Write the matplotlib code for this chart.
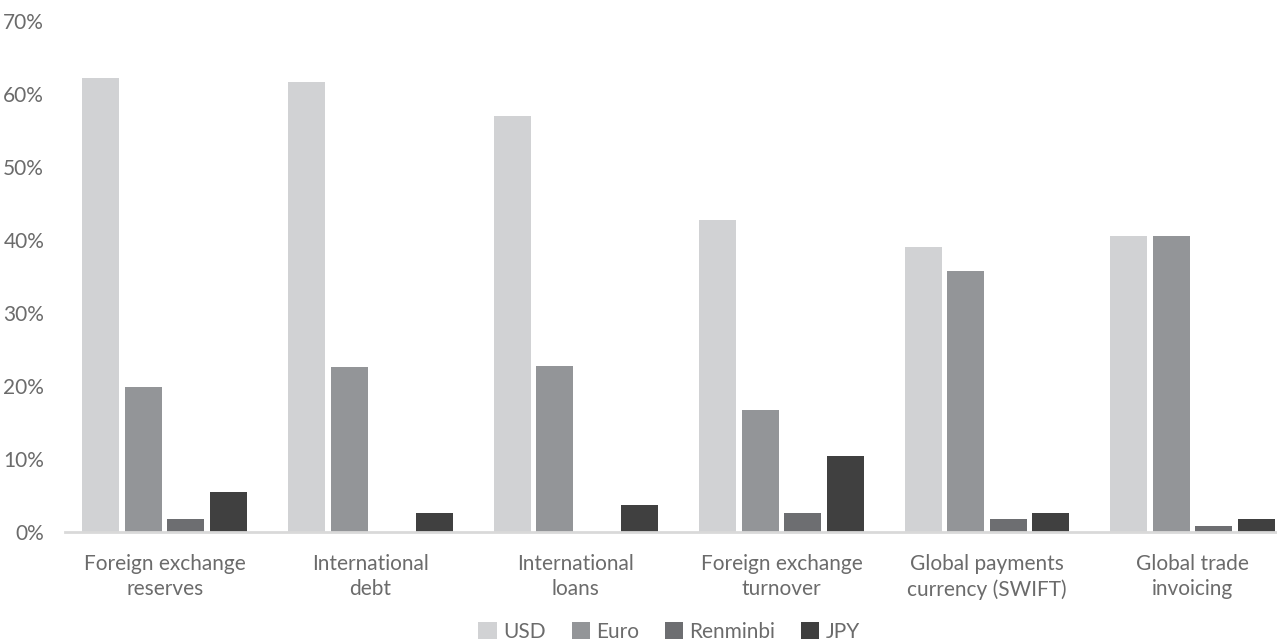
import numpy as np
from matplotlib import pyplot as plt
from matplotlib.ticker import FuncFormatter

categorias = ["Foreign exchange\nreserves", "International\ndebt", "International\nloans",
              "Foreign exchange\nturnover", "Global payments\ncurrency (SWIFT)", "Global trade\ninvoicing"]

usd = [62.2, 61.6, 57.0, 42.8, 39.1, 40.6]
euro = [19.8, 22.6, 22.8, 16.7, 35.7, 40.6]
renminbi = [1.8, 0.0, 0.0, 2.6, 1.8, 0.8]
jpy = [5.5, 2.6, 3.7, 10.4, 2.6, 1.8]

series = [("USD", usd, "#d1d2d4"), ("Euro", euro, "#939598"),
          ("Renminbi", renminbi, "#6d6e71"), ("JPY", jpy, "#404040")]

plt.rcParams["font.family"] = ["Lato", "DejaVu Sans"]
texto = "#6b6b6b"

fig = plt.figure(figsize=(12.77, 6.44), dpi=100)
ax = fig.add_axes([65 / 1277, 112 / 644, 1 - 65 / 1277, 511 / 644])

x = np.arange(len(categorias))
for i, (nome, vals, cor) in enumerate(series):
    ax.bar(x + (i - 1.5) * 0.207, vals, width=0.18, color=cor, label=nome, zorder=2)

ax.set_ylim(0, 70)
ax.set_xlim(-0.485, 5.41)
ax.set_yticks(range(0, 71, 10))
ax.yaxis.set_major_formatter(FuncFormatter(lambda v, p: f"{v:.0f}%"))
ax.set_xticks(x)
ax.set_xticklabels(categorias, linespacing=1.3)

for s in ["top", "right", "left"]:
    ax.spines[s].set_visible(False)
ax.spines["bottom"].set_color("#d9d9d9")
ax.spines["bottom"].set_linewidth(2)
ax.tick_params(axis="both", length=0, labelsize=15, colors=texto)
ax.tick_params(axis="y", pad=15)
ax.tick_params(axis="x", pad=16)

# legenda embaixo, no centro
fig.legend(loc="lower center", ncol=4, frameon=False, fontsize=15,
           bbox_to_anchor=(0.524, -0.026), handlelength=0.87, handleheight=0.87,
           handletextpad=0.3, columnspacing=1.25, labelcolor=texto)

fig.savefig("out.png", dpi=100)
